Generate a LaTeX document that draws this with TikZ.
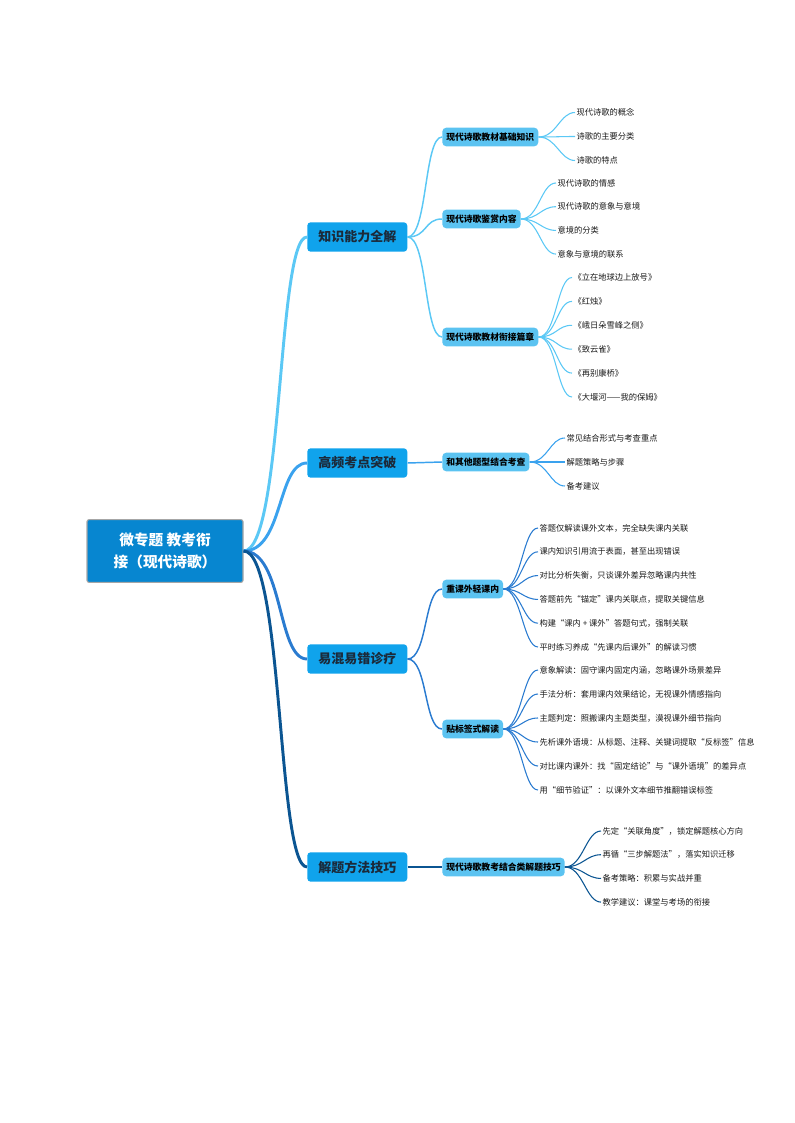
\documentclass[tikz,border=0pt]{standalone}
\usepackage{fontspec}
\setmainfont{Noto Sans CJK SC}
\usepackage{tikz}

\definecolor{rootblue}{HTML}{0786D0}
\definecolor{topicblue}{HTML}{10A3EC}
\definecolor{subblue}{HTML}{5BC3F1}
\definecolor{topictext}{HTML}{1B2A3A}
\definecolor{lineA}{HTML}{5BC8F5}
\definecolor{lineB}{HTML}{3AA2EE}
\definecolor{lineC}{HTML}{2A7BD0}
\definecolor{lineD}{HTML}{0B5592}

\begin{document}
\begin{tikzpicture}[x=0.75pt, y=-0.75pt,
    root/.style={draw=gray!70, line width=0.8pt, fill=rootblue, rounded corners=1.5pt, text=white,
        font=\bfseries\fontsize{11}{16}\selectfont, align=center, minimum width=117pt, minimum height=47pt},
    topic/.style={fill=topicblue, rounded corners=2.5pt, text=topictext, anchor=west, inner sep=0pt,
        font=\bfseries\fontsize{9.75}{12}\selectfont, minimum width=75pt, minimum height=22pt},
    sub/.style={fill=subblue, rounded corners=3pt, anchor=west, inner xsep=3pt, inner ysep=0pt,
        font=\bfseries\fontsize{6.6}{8}\selectfont, minimum height=14pt},
    leaf/.style={anchor=west, inner sep=1pt, text=black!90, font=\fontsize{6.2}{7.5}\selectfont},
    main/.style={line width=2.2pt},
    mid/.style={line width=1.1pt},
    thin/.style={line width=0.8pt}]
    \useasboundingbox (0,0) rectangle (794,1123);

    \node[root] (R) at (165,551) {微专题 教考衔\\接（现代诗歌）};

    \node[topic] (K) at (307,237) {知识能力全解};
    \node[topic] (G) at (307,463) {高频考点突破};
    \node[topic] (Y) at (307,659) {易混易错诊疗};
    \node[topic] (J) at (307,867) {解题方法技巧};

    \draw[lineA, main] (R.east) .. controls +(40,0) and +(-30,0) .. (K.west);
    \draw[lineB, main] (R.east) .. controls +(40,0) and +(-30,0) .. (G.west);
    \draw[lineC, main] (R.east) .. controls +(40,0) and +(-30,0) .. (Y.west);
    \draw[lineD, main] (R.east) .. controls +(40,0) and +(-30,0) .. (J.west);

    % second level
    \node[sub] (K1) at (442,137) {现代诗歌教材基础知识};
    \node[sub] (K2) at (442,219) {现代诗歌鉴赏内容};
    \node[sub] (K3) at (442,337) {现代诗歌教材衔接篇章};
    \node[sub] (G1) at (442,462) {和其他题型结合考查};
    \node[sub] (Y1) at (442,589) {重课外轻课内};
    \node[sub] (Y2) at (442,729) {贴标签式解读};
    \node[sub] (J1) at (442,867) {现代诗歌教考结合类解题技巧};

    \foreach \s in {K1,K2,K3}
        \draw[lineA, mid] (K.east) .. controls +(20,0) and +(-18,0) .. (\s.west);
    \draw[lineB, mid] (G.east) -- (G1.west);
    \foreach \s in {Y1,Y2}
        \draw[lineC, mid] (Y.east) .. controls +(20,0) and +(-18,0) .. (\s.west);
    \draw[lineD, mid] (J.east) -- (J1.west);

    % leaves
    \foreach \t [count=\i] in {现代诗歌的概念,诗歌的主要分类,诗歌的特点} {
        \node[leaf] (K1\i) at (575,{112.5+24*(\i-1)}) {\t};
        \draw[lineA, thin] (K1.east) .. controls +(18,0) and +(-15,0) .. (K1\i.west);
    }
    \foreach \t [count=\i] in {现代诗歌的情感,现代诗歌的意象与意境,意境的分类,意象与意境的联系} {
        \node[leaf] (K2\i) at (556,{183+23.7*(\i-1)}) {\t};
        \draw[lineA, thin] (K2.east) .. controls +(18,0) and +(-15,0) .. (K2\i.west);
    }
    \foreach \t [count=\i] in {《立在地球边上放号》,《红烛》,《峨日朵雪峰之侧》,《致云雀》,《再别康桥》,《大堰河——我的保姆》} {
        \node[leaf] (K3\i) at (572,{277.5+23.9*(\i-1)}) {\t};
        \draw[lineA, thin] (K3.east) .. controls +(18,0) and +(-15,0) .. (K3\i.west);
    }
    \foreach \t [count=\i] in {常见结合形式与考查重点,解题策略与步骤,备考建议} {
        \node[leaf] (G1\i) at (565,{438+24*(\i-1)}) {\t};
        \draw[lineB, thin] (G1.east) .. controls +(18,0) and +(-15,0) .. (G1\i.west);
    }
    \foreach \t [count=\i] in {答题仅解读课外文本，完全缺失课内关联,课内知识引用流于表面，甚至出现错误,
        对比分析失衡，只谈课外差异忽略课内共性,答题前先“锚定”课内关联点，提取关键信息,
        构建“课内 + 课外”答题句式，强制关联,平时练习养成“先课内后课外”的解读习惯} {
        \node[leaf] (Y1\i) at (538,{528+23.8*(\i-1)}) {\t};
        \draw[lineC, thin] (Y1.east) .. controls +(18,0) and +(-15,0) .. (Y1\i.west);
    }
    \foreach \t [count=\i] in {意象解读：固守课内固定内涵，忽略课外场景差异,手法分析：套用课内效果结论，无视课外情感指向,
        主题判定：照搬课内主题类型，漠视课外细节指向,先析课外语境：从标题、注释、关键词提取“反标签”信息,
        对比课内课外：找“固定结论”与“课外语境”的差异点,用“细节验证”：以课外文本细节推翻错误标签} {
        \node[leaf] (Y2\i) at (538,{670+24*(\i-1)}) {\t};
        \draw[lineC, thin] (Y2.east) .. controls +(18,0) and +(-15,0) .. (Y2\i.west);
    }
    \foreach \t [count=\i] in {先定“关联角度”，锁定解题核心方向,再循“三步解题法”，落实知识迁移,
        备考策略：积累与实战并重,教学建议：课堂与考场的衔接} {
        \node[leaf] (J1\i) at (601,{831+23.7*(\i-1)}) {\t};
        \draw[lineD, thin] (J1.east) .. controls +(18,0) and +(-15,0) .. (J1\i.west);
    }
\end{tikzpicture}
\end{document}
